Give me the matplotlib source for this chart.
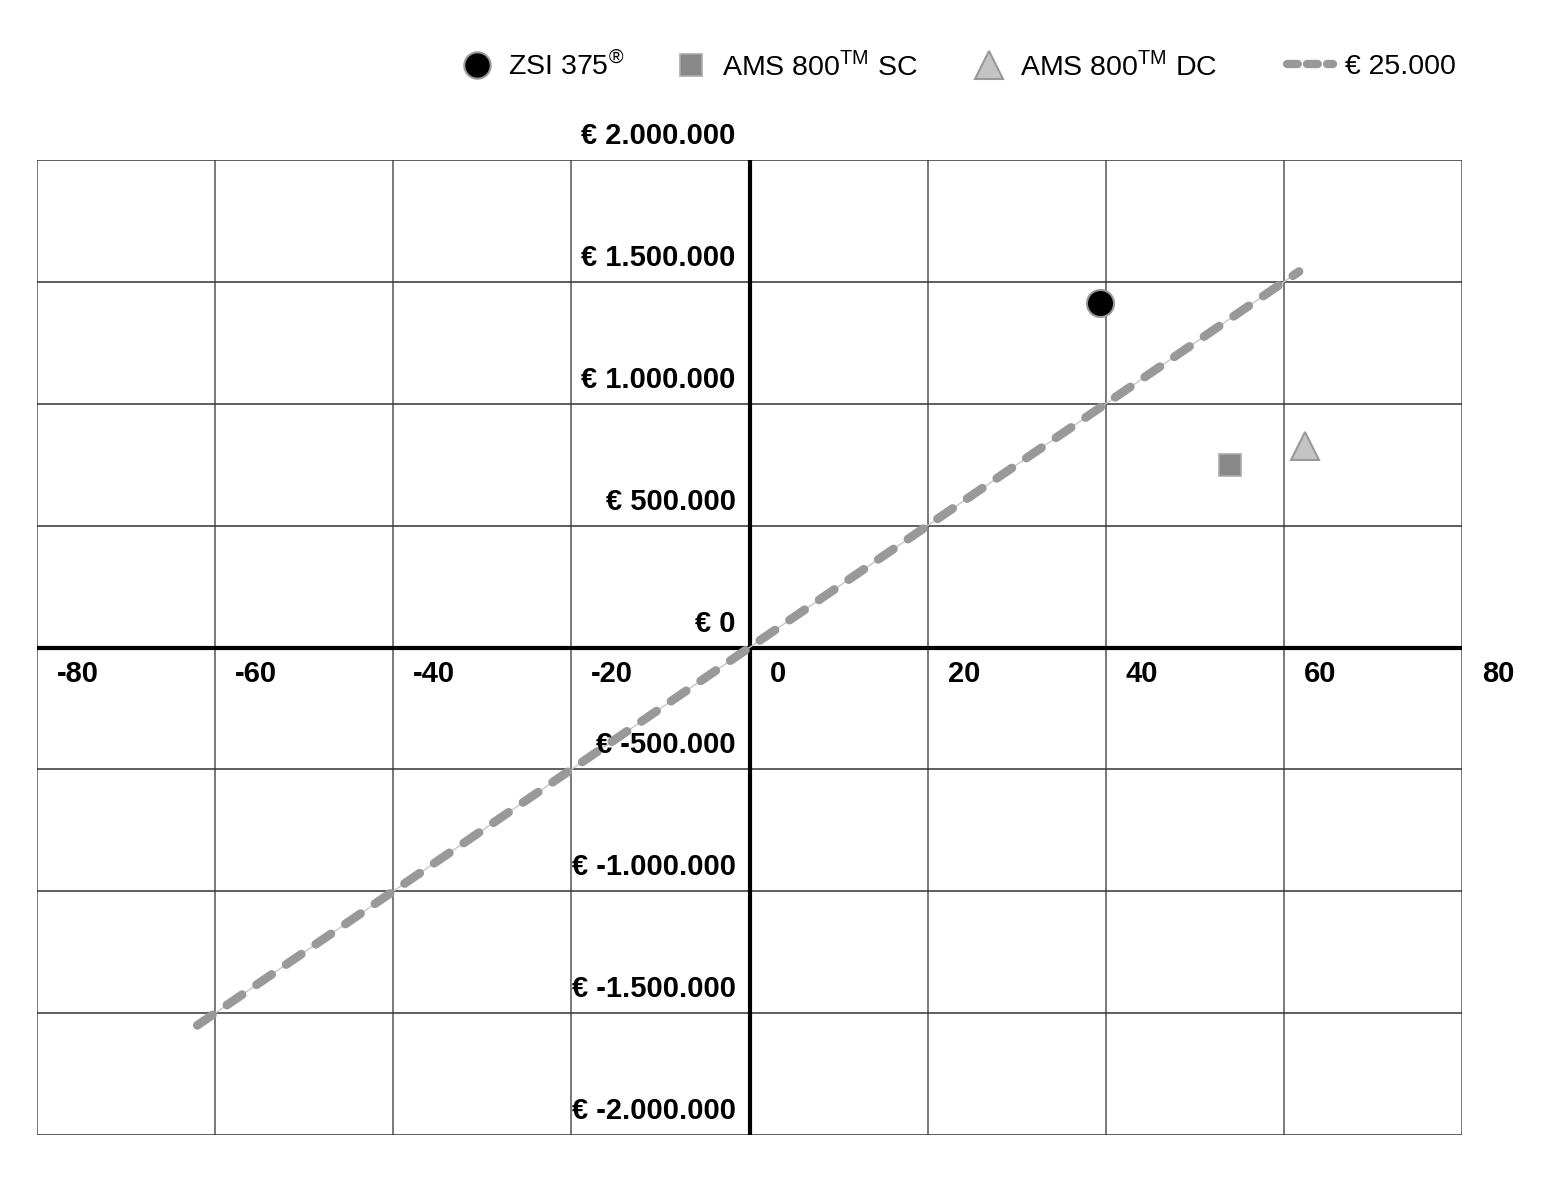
import numpy as np
import matplotlib
matplotlib.use('Agg')
import matplotlib.pyplot as plt
from matplotlib.lines import Line2D
from matplotlib.transforms import offset_copy

plt.rcParams['font.family'] = ['Liberation Sans', 'DejaVu Sans']
plt.rcParams['mathtext.fontset'] = 'custom'
plt.rcParams['mathtext.rm'] = 'Liberation Sans'

# data
x_ticks = [-80, -60, -40, -20, 0, 20, 40, 60, 80]
y_ticks = [-2000000, -1500000, -1000000, -500000, 0, 500000, 1000000, 1500000, 2000000]

zsi_x, zsi_y = [39.3], [1414000]
sc_x, sc_y = [53.9], [750000]
dc_x, dc_y = [62.4], [828000]

wtp = 25000  # euro per unit
wtp_x = np.array([-62.0, 61.7])
wtp_y = wtp * wtp_x


def euro(v):
    s = f"{abs(v):,}".replace(",", ".")
    return "€ " + ("-" if v < 0 else "") + s


fig = plt.figure(figsize=(15.47, 12), dpi=100)
ax = fig.add_axes([37 / 1547, 1 - 1135 / 1200, (1462 - 37) / 1547, (1135 - 160) / 1200])
ax.set_xlim(-80, 80)
ax.set_ylim(-2000000, 2000000)

for xv in x_ticks:
    ax.axvline(xv, color='#555555', lw=1.1, zorder=1)
for yv in y_ticks:
    ax.axhline(yv, color='#333333', lw=1.1, zorder=1)
ax.axhline(0, color='black', lw=3, zorder=2)
ax.axvline(0, color='black', lw=3, zorder=2)
for s in ax.spines.values():
    s.set_visible(False)
ax.set_xticks([])
ax.set_yticks([])

# threshold line
ax.plot(wtp_x, wtp_y, color='#c8c8c8', lw=1, zorder=3)
ax.plot(wtp_x, wtp_y, color='#999999', lw=6.3, dashes=(2.1, 2.0),
        dash_capstyle='round', zorder=4)

ax.plot(zsi_x, zsi_y, 'o', ms=19.5, color='black', mec='#999999', mew=1.5, zorder=5)
ax.plot(sc_x, sc_y, 's', ms=16.5, color='#888888', mec='#aaaaaa', mew=1.2, zorder=5)
ax.plot(dc_x, dc_y, '^', ms=20, color='#c4c4c4', mec='#999999', mew=1.5, zorder=5)

# axis labels along the zero lines
tx = offset_copy(ax.transData, fig=fig, x=20 / 100 * 72, y=-27 / 100 * 72, units='points')
for xv in x_ticks:
    ax.text(xv, 0, str(xv), transform=tx, ha='left', va='center',
            fontsize=21, fontweight='bold', zorder=6)
ty = offset_copy(ax.transData, fig=fig, x=-14 / 100 * 72, y=24 / 100 * 72, units='points')
for yv in y_ticks:
    ax.text(0, yv, euro(yv), transform=ty, ha='right', va='center',
            fontsize=21, fontweight='bold', zorder=6, clip_on=False)

# legend: one entry per legend so each sits where the reference has it
handles = [
    Line2D([], [], ls='none', marker='o', ms=19, color='black', mec='#999999', mew=1.5),
    Line2D([], [], ls='none', marker='s', ms=16, color='#888888', mec='#aaaaaa', mew=1.2),
    Line2D([], [], ls='none', marker='^', ms=20, color='#c4c4c4', mec='#999999', mew=1.5),
    Line2D([], [], color='#999999', lw=6, dashes=(1.3, 1.1), dash_capstyle='round'),
]
labels = ['ZSI 375$^{®}$', 'AMS 800$^{\\mathrm{TM}}$ SC',
          'AMS 800$^{\\mathrm{TM}}$ DC', '€ 25.000']
starts = [454, 668, 966, 1287]
pads = [0.3, 0.3, 0.3, 0.45]
ys = [66, 66, 66, 66.5]
for h, lab, x0, y0, pad in zip(handles, labels, starts, ys, pads):
    fig.legend([h], [lab], loc='center left', bbox_to_anchor=(x0 / 1547, 1 - y0 / 1200),
               frameon=False, fontsize=20.5, handlelength=1.6, handletextpad=pad,
               borderpad=0, borderaxespad=0)

fig.savefig('out.png', dpi=100, facecolor='white')
